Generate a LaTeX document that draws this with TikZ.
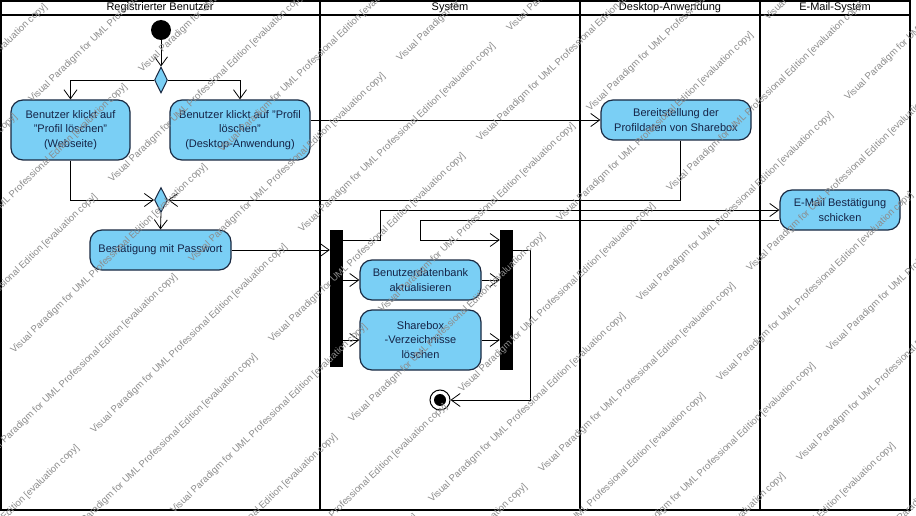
\documentclass[tikz,border=0pt]{standalone}
\usepackage{fontspec}
\setmainfont{Liberation Sans}
\usetikzlibrary{arrows.meta,shapes.geometric,calc}
\definecolor{actfill}{RGB}{122,207,245}
\definecolor{actdraw}{RGB}{25,40,65}
\definecolor{acttext}{RGB}{20,35,70}
\begin{document}
\begin{tikzpicture}[x=1pt,y=-1pt,
  act/.style={draw=actdraw, line width=1.2pt, fill=actfill, rounded corners=12pt,
    text=acttext, align=center, font=\fontsize{11}{14.5}\selectfont, inner sep=0pt},
  dec/.style={diamond, draw=actdraw, line width=1pt, fill=actfill, aspect=0.5,
    minimum width=13pt, minimum height=26pt, inner sep=0pt},
  bar/.style={rectangle, fill=black, draw=none, minimum width=13pt, inner sep=0pt},
  initnode/.style={circle, fill=black, minimum size=20pt, inner sep=0pt},
  finalnode/.style={circle, draw=black, line width=1pt, fill=white, minimum size=20pt, inner sep=0pt,
    path picture={\fill[black] (path picture bounding box.center) circle (6pt);}},
  flow/.style={draw=black, line width=0.8pt, -{Straight Barb[length=9pt,width=13pt,line width=0.8pt]}},
  lane/.style={draw=black, line width=2pt},
  head/.style={font=\fontsize{11}{13}\selectfont, inner sep=0pt},
  wm/.style={anchor=base west, rotate=44, text=black!45, font=\fontsize{9.6}{10}\selectfont, inner sep=0pt}
]
\useasboundingbox (0,0) rectangle (916,516);
\fill[white] (0,0) rectangle (916,516);

% swimlanes
\draw[lane] (1,1) rectangle (910,510);
\draw[line width=1.6pt] (1,15) -- (910,15);
\draw[lane] (320,1) -- (320,510);
\draw[lane] (580,1) -- (580,510);
\draw[lane] (760,1) -- (760,510);
\node[head] (h1) at (160,8) {Registrierter Benutzer};
\node[head] (h2) at (450,8) {System};
\node[head] (h3) at (670,8) {Desktop-Anwendung};
\node[head] (h4) at (835,8) {E-Mail-System};

% nodes
\node[initnode] (init) at (161,30) {};
\node[dec] (d1) at (161,80) {};
\node[act, minimum width=119pt, minimum height=60pt] (a1) at (70.5,130)
  {Benutzer klickt auf\\"Profil löschen"\\(Webseite)};
\node[act, minimum width=140pt, minimum height=60pt] (a2) at (240,130)
  {Benutzer klickt auf "Profil\\löschen"\\(Desktop-Anwendung)};
\node[act, minimum width=150pt, minimum height=40pt] (a3) at (676,120)
  {Bereitstellung der\\Profildaten von Sharebox};
\node[dec, minimum height=25pt] (d2) at (161,200) {};
\node[act, minimum width=141pt, minimum height=40pt] (a4) at (160.5,250)
  {Bestätigung mit Passwort};
\node[bar, minimum height=137pt] (fork) at (336.5,298.5) {};
\node[act, minimum width=121pt, minimum height=40pt] (a5) at (420.5,280)
  {Benutzerdatenbank\\aktualisieren};
\node[act, minimum width=121pt, minimum height=60pt] (a6) at (420.5,340)
  {Sharebox\\-Verzeichnisse\\löschen};
\node[bar, minimum height=140pt] (join) at (506.5,300) {};
\node[finalnode] (final) at (440,400) {};
\node[act, minimum width=120pt, minimum height=40pt] (a7) at (840,210)
  {E-Mail Bestätigung\\schicken};

% connectors
\draw[flow] (init) -- (d1);
\draw[flow] (d1.west) -| (a1.north);
\draw[flow] (d1.east) -| (a2.north);
\draw[flow] (a3.west -| a2.east) -- (a3.west);
\draw[flow] ([xshift=4pt]a3.south) |- (d2.east);
\draw[flow] (a1.south) |- (d2.west);
\draw[flow] (d2.south) -- (a4.north);
\draw[flow] (a4.east) -- (a4.east -| fork.west);
\draw[flow] (fork.east |- 0,240) -- (380,240) -- (380,210) -- (a7.west);
\draw[flow] (fork.east |- a5.west) -- (a5.west);
\draw[flow] (fork.east |- a6.west) -- (a6.west);
\draw[flow] (a7.west |- 0,220) -- (420,220) -- (420,240) -- (join.west |- 0,240);
\draw[flow] (a5.east) -- (join.west |- a5.east);
\draw[flow] (a6.east) -- (join.west |- a6.east);
\draw[flow] (join.east |- 0,250) -- (530,250) -- (530,400) -- (final);

% watermark
\begin{scope}
\clip (0,0) rectangle (916,516);
\foreach \m in {-9,...,6}{
  \foreach \j in {-4,...,4}{
    \foreach \bx/\by in {640/302, 750/272}{
      \pgfmathsetmacro\px{\bx+80*\m+208*\j}
      \pgfmathsetmacro\py{\by+80*\m-201*\j}
      \pgfmathparse{((\px>-280)&&(\px<910)&&(\py>5)&&(\py<790))?1:0}
      \ifdim\pgfmathresult pt>0.5pt
        \node[wm] at (\px,\py) {Visual Paradigm for UML Professional Edition [evaluation copy]};
      \fi
    }
  }
}
\end{scope}
\end{tikzpicture}
\end{document}
